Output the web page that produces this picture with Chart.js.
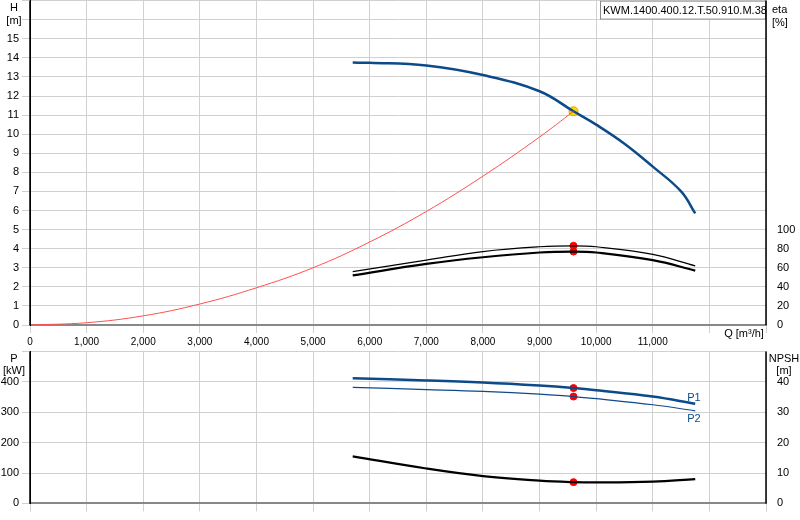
<!DOCTYPE html><html><head><meta charset="utf-8">
<script src="https://cdn.jsdelivr.net/npm/chart.js@4"></script>
<style>body{margin:0;background:#fff;overflow:hidden}#a{position:absolute;left:0;top:-9px}#b{position:absolute;left:0;top:342px}</style></head><body>
<canvas id="a" width="800" height="360"></canvas><canvas id="b" width="800" height="171"></canvas>
<script>
const qPump=[5700,6000,7000,8000,9000,9600,10000,10500,11000,11500,11750];
const head=[13.75,13.74,13.6,13.1,12.25,11.2,10.5,9.5,8.3,7.0,5.85];
const qSys=[0,1000,2000,3000,4000,5000,6000,7000,8000,9000,9600];
const hSys=[0,0.12,0.48,1.1,1.95,3.0,4.35,5.95,7.8,9.85,11.2];
const qEta=[5700,7000,8000,9000,9600,10000,11000,11750];
const eta1=[56,68,77,82,83,82,74,62];
const eta2=[52,64,71,76,77,76,68,57];
const p1=[412,405,398,388,380,373,352,328];
const p2=[382,375,369,360,352,345,325,305];
const npsh=[15.5,11.5,9,7.5,7.0,6.9,7.2,8];
const dutyQ=9600;
const F='Arial, "Liberation Sans", sans-serif';
Chart.defaults.font.family=F;Chart.defaults.font.size=11;Chart.defaults.color='#000';
const xy=(xs,ys)=>xs.map((x,i)=>({x,y:ys[i]}));
const at=(xs,ys)=>({x:dutyQ,y:ys[xs.indexOf(dutyQ)]});
const grid={color:'#d0d0d0'};
const W=(w)=>function(s){s.width=w};
const line=(d,c,w,ax)=>({type:'line',data:d,borderColor:c,borderWidth:w,pointRadius:0,tension:0.4,yAxisID:ax,fill:false});
const dot=(p,ax,c='#ff0000',r=3.5)=>({type:'scatter',data:[p],backgroundColor:c,borderColor:c==='#ff0000'?c:'#e0a000',pointRadius:r,yAxisID:ax});
const txt={id:'t',afterDraw(c){const g=c.ctx;g.save();g.font='11px '+F;g.fillStyle='#000';const o=c.chartArea.top;
 (c.options.plugins.labels||[]).forEach(l=>{g.textAlign=l.a||'center';g.fillStyle=l.c||'#000';g.fillText(l.t,l.x,l.y+(l.abs?0:o))});
 if(c.canvas.id==='a'){g.fillStyle='#fff';g.fillRect(600,o,166,19);g.strokeStyle='#888';g.strokeRect(600.5,o+0.5,165,18);g.fillStyle='#000';g.textAlign='left';g.fillText('KWM.1400.400.12.T.50.910.M.38',603,o+13);}
 const a=c.chartArea;g.strokeStyle='#000';g.lineWidth=1.5;g.beginPath();g.moveTo(a.left,a.top);g.lineTo(a.left,a.bottom);g.moveTo(a.right,a.top);g.lineTo(a.right,a.bottom);g.stroke();
 g.restore();}};
const xAxis=(show)=>({type:'linear',min:0,max:13000,grid:{...grid,drawTicks:true},border:{color:'#888',width:2},
 ticks:{stepSize:1000,display:show,maxRotation:0,font:{size:10},callback:v=>v===0?'0':(v>=12000?'':v.toLocaleString('en-US'))}});
new Chart(document.getElementById('a'),{data:{datasets:[
 line(xy(qSys,hSys),'#ff5050',1,'y'),
 line(xy(qEta,eta1),'#000',1.2,'e'),
 line(xy(qEta,eta2),'#000',2.2,'e'),
 line(xy(qPump,head),'#0d4a8a',2.5,'y'),
 dot(at(qEta,eta1),'e'),dot(at(qEta,eta2),'e'),
 dot(at(qSys,hSys),'y','#ffd800',4.5)]},
 options:{animation:false,responsive:false,layout:{padding:0},plugins:{legend:{display:false},tooltip:{enabled:false},
 labels:[{t:'H',x:14,y:10},{t:'[m]',x:14,y:23},{t:'eta',x:772,y:12,a:'left'},{t:'[%]',x:772,y:25,a:'left'},{t:'Q [m³/h]',x:744,y:346,abs:1}]},
 scales:{x:xAxis(true),
 y:{min:0,max:17,afterFit:W(30),grid,border:{color:'#000'},ticks:{stepSize:1,callback:v=>v>15?'':v}},
 e:{position:'right',min:0,max:340,afterFit:W(34),grid:{display:false},ticks:{stepSize:20,callback:v=>v>100?'':v}}}},
 plugins:[txt]});
new Chart(document.getElementById('b'),{data:{datasets:[
 line(xy(qEta,p1),'#0d4a8a',2.5,'y'),line(xy(qEta,p2),'#0d4a8a',1.2,'y'),line(xy(qEta,npsh),'#000',2.2,'n'),
 dot(at(qEta,p1),'y'),dot(at(qEta,p2),'y'),dot(at(qEta,npsh),'n')]},
 options:{animation:false,responsive:false,layout:{padding:{top:3,bottom:0}},plugins:{legend:{display:false},tooltip:{enabled:false},
 labels:[{t:'P',x:14,y:10},{t:'[kW]',x:14,y:22},{t:'NPSH',x:784,y:10},{t:'[m]',x:784,y:22},{t:'P1',x:694,y:49,c:'#0d4a8a'},{t:'P2',x:694,y:70,c:'#0d4a8a'}]},
 scales:{x:{...xAxis(false),ticks:{display:false,stepSize:1000}},
 y:{min:0,max:500,afterFit:W(30),grid,border:{color:'#000'},ticks:{stepSize:100,callback:v=>v>400?'':v}},
 n:{position:'right',min:0,max:50,afterFit:W(34),grid:{display:false},ticks:{stepSize:10,callback:v=>v>40?'':v}}}},
 plugins:[txt]});
</script></body></html>
